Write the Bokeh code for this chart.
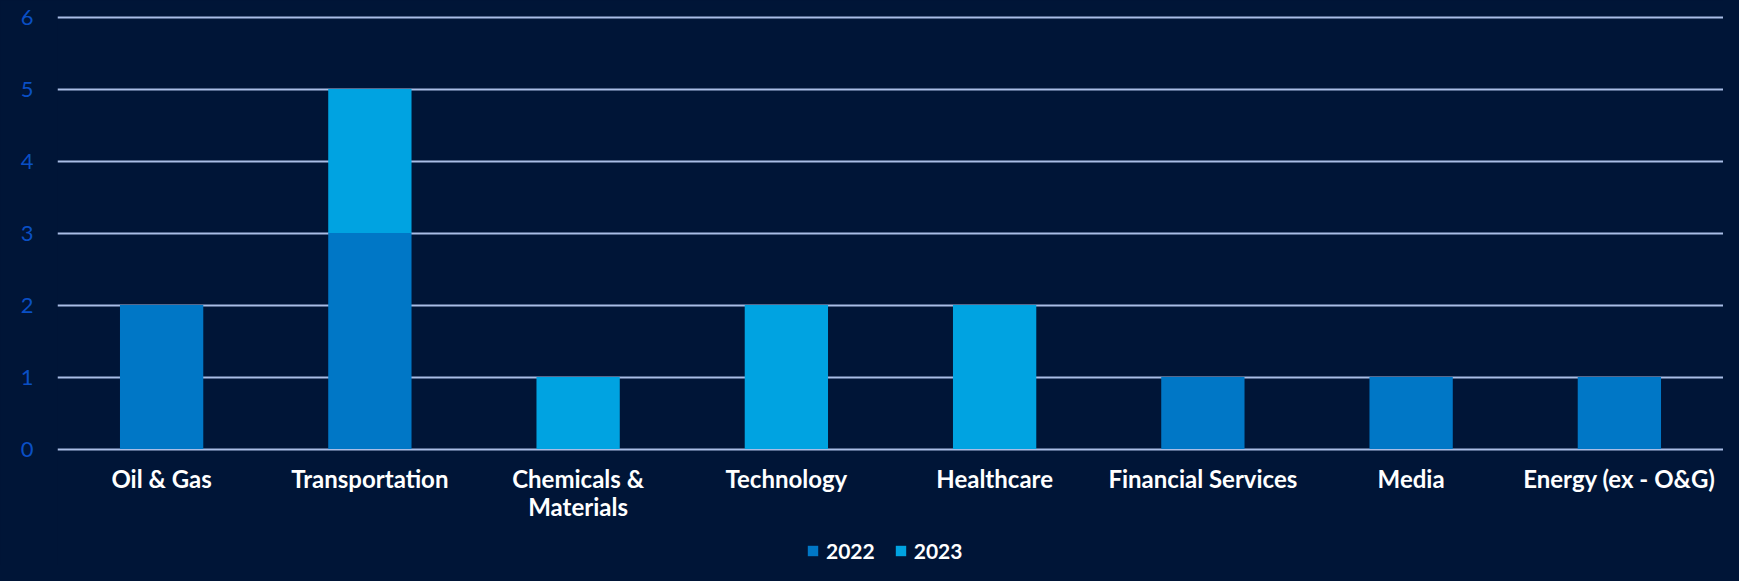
from bokeh.plotting import figure
from bokeh.models import ColumnDataSource, Legend, LegendItem, FactorRange, CategoricalAxis, CustomJSTickFormatter
from bokeh.embed import file_html
from bokeh.resources import INLINE

categories = ["Oil & Gas", "Transportation", "Chemicals & Materials", "Technology",
              "Healthcare", "Financial Services", "Media", "Energy (ex - O&G)"]
years = ["2022", "2023"]
values_2022 = [2, 3, 0, 0, 0, 1, 1, 1]
values_2023 = [0, 2, 1, 2, 2, 0, 0, 0]
y_ticks = [0, 1, 2, 3, 4, 5, 6]
first_line = {"Chemicals & Materials": "Chemicals &"}
second_line = {"Chemicals & Materials": "Materials"}

BG = "#001537"
C2022 = "#0077C6"
C2023 = "#00A3E1"
GRID = "#A9BDE6"
YLAB = "#0A4FC4"

src = ColumnDataSource(dict(cat=categories, **{"2022": values_2022, "2023": values_2023}))

# frame runs from just above the top gridline down to the bottom of the figure; the value
# axis starts below zero so the category labels and the legend sit inside the frame
p = figure(x_range=FactorRange(*categories), y_range=(-1.618, 6.035),
           width=1723, height=565, output_backend="svg", toolbar_location=None,
           background_fill_color=BG, border_fill_color=BG, outline_line_color=None,
           min_border_left=57, min_border_right=0, min_border_top=14, min_border_bottom=0)

rs = p.vbar_stack(years, x="cat", width=0.4, source=src, color=[C2022, C2023], line_color=None)

p.xgrid.grid_line_color = None
p.ygrid.grid_line_color = GRID
p.ygrid.grid_line_width = 2
p.yaxis.ticker = y_ticks
p.yaxis.axis_line_color = None
p.yaxis.major_tick_line_color = None
p.yaxis.minor_tick_line_color = None
p.yaxis.major_tick_out = 0
p.yaxis.major_label_text_color = YLAB
p.yaxis.major_label_text_font = "Lato"
p.yaxis.major_label_text_font_size = "22px"
p.yaxis.major_label_standoff = 24


def style_x(ax, mapping, keep_others, standoff):
    ax.fixed_location = 0
    ax.axis_line_color = None
    ax.major_tick_line_color = None
    ax.major_tick_out = 0
    ax.major_tick_in = 0
    ax.major_label_text_color = "#FFFFFF"
    ax.major_label_text_font = "Lato"
    ax.major_label_text_font_style = "bold"
    ax.major_label_text_font_size = "24px"
    ax.major_label_standoff = standoff
    ax.formatter = CustomJSTickFormatter(
        args=dict(m=mapping, keep=keep_others),
        code="return (tick in m) ? m[tick] : (keep ? tick : '');")


style_x(p.xaxis[0], first_line, True, 15)
ax2 = CategoricalAxis()
style_x(ax2, second_line, False, 43)
p.add_layout(ax2, "below")

legend = Legend(items=[LegendItem(label=y, renderers=[r]) for y, r in zip(years, rs)],
                orientation="horizontal", location=(749, 2),
                background_fill_alpha=0, border_line_color=None,
                label_text_color="#FFFFFF", label_text_font="Lato",
                label_text_font_style="bold", label_text_font_size="21px",
                glyph_width=13, glyph_height=13, label_standoff=7, spacing=19,
                padding=0, margin=0)
p.add_layout(legend, "center")

html = file_html(p, INLINE)
html = html.replace("<head>", "<head><style>html,body{background:%s;}</style>" % BG, 1)
open("out.html", "w").write(html)
